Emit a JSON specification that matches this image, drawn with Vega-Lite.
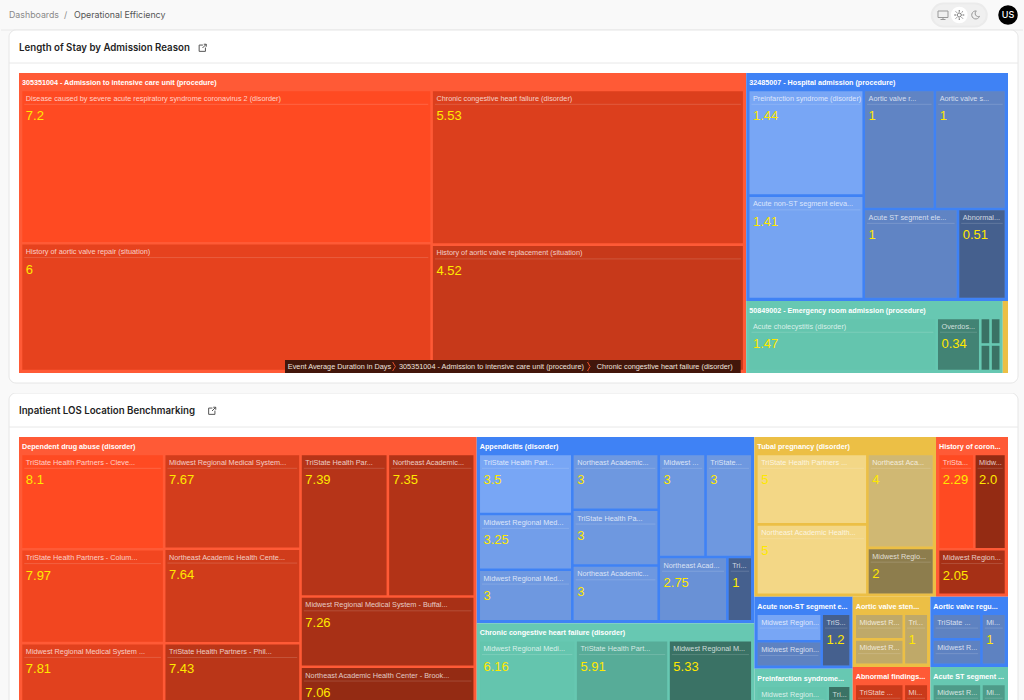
{
  "$schema": "https://vega.github.io/schema/vega-lite/v6.json",
  "background": "#f9f9f9",
  "padding": {"left": 0, "top": -1, "right": 0, "bottom": 0},
  "spacing": 0,
  "bounds": "flush",
  "config": {"view": {"stroke": null}, "font": "Liberation Sans", "text": {"font": "Liberation Sans"}},
  "datasets": {
    "leaves": [
      {"path": "Aaaaa", "group": "305351004 - Admission to intensive care unit (procedure)", "name": "Disease caused by severe acute respiratory syndrome coronavirus 2 (disorder)", "value": 7.2},
      {"path": "Aaaab", "group": "305351004 - Admission to intensive care unit (procedure)", "name": "History of aortic valve repair (situation)", "value": 6},
      {"path": "Aaaba", "group": "305351004 - Admission to intensive care unit (procedure)", "name": "Chronic congestive heart failure (disorder)", "value": 5.53},
      {"path": "Aaabb", "group": "305351004 - Admission to intensive care unit (procedure)", "name": "History of aortic valve replacement (situation)", "value": 4.52},
      {"path": "Abaaa", "group": "32485007 - Hospital admission (procedure)", "name": "Preinfarction syndrome (disorder)", "value": 1.44},
      {"path": "Abaab", "group": "32485007 - Hospital admission (procedure)", "name": "Acute non-ST segment eleva...", "value": 1.41},
      {"path": "Ababaa", "group": "32485007 - Hospital admission (procedure)", "name": "Aortic valve r...", "value": 1},
      {"path": "Ababab", "group": "32485007 - Hospital admission (procedure)", "name": "Aortic valve s...", "value": 1},
      {"path": "Ababba", "group": "32485007 - Hospital admission (procedure)", "name": "Acute ST segment ele...", "value": 1},
      {"path": "Ababbb", "group": "32485007 - Hospital admission (procedure)", "name": "Abnormal...", "value": 0.51},
      {"path": "Abbaaa", "group": "50849002 - Emergency room admission (procedure)", "name": "Acute cholecystitis (disorder)", "value": 1.47},
      {"path": "Abbaab", "group": "50849002 - Emergency room admission (procedure)", "name": "Overdos...", "value": 0.34},
      {"path": "Abbaaca", "group": "50849002 - Emergency room admission (procedure)", "name": "", "value": 0.04},
      {"path": "Abbaacb", "group": "50849002 - Emergency room admission (procedure)", "name": "", "value": 0.04},
      {"path": "Abbaada", "group": "50849002 - Emergency room admission (procedure)", "name": "", "value": 0.04},
      {"path": "Abbaadb", "group": "50849002 - Emergency room admission (procedure)", "name": "", "value": 0.04},
      {"path": "Abbb", "group": "Other", "name": "", "value": 0.04},

      {"path": "Baaaa", "group": "Dependent drug abuse (disorder)", "name": "TriState Health Partners - Cleve...", "value": 8.1},
      {"path": "Baaab", "group": "Dependent drug abuse (disorder)", "name": "TriState Health Partners - Colum...", "value": 7.97},
      {"path": "Baaac", "group": "Dependent drug abuse (disorder)", "name": "Midwest Regional Medical System ...", "value": 7.81},
      {"path": "Baaba", "group": "Dependent drug abuse (disorder)", "name": "Midwest Regional Medical System...", "value": 7.67},
      {"path": "Baabb", "group": "Dependent drug abuse (disorder)", "name": "Northeast Academic Health Cente...", "value": 7.64},
      {"path": "Baabc", "group": "Dependent drug abuse (disorder)", "name": "TriState Health Partners - Phil...", "value": 7.43},
      {"path": "Baacaa", "group": "Dependent drug abuse (disorder)", "name": "TriState Health Par...", "value": 7.39},
      {"path": "Baacab", "group": "Dependent drug abuse (disorder)", "name": "Northeast Academic...", "value": 7.35},
      {"path": "Baacb", "group": "Dependent drug abuse (disorder)", "name": "Midwest Regional Medical System - Buffal...", "value": 7.26},
      {"path": "Baacc", "group": "Dependent drug abuse (disorder)", "name": "Northeast Academic Health Center - Brook...", "value": 7.06},

      {"path": "Bbaaa", "group": "Appendicitis (disorder)", "name": "TriState Health Part...", "value": 3.5},
      {"path": "Bbaab", "group": "Appendicitis (disorder)", "name": "Midwest Regional Med...", "value": 3.25},
      {"path": "Bbaac", "group": "Appendicitis (disorder)", "name": "Midwest Regional Med...", "value": 3},
      {"path": "Bbaba", "group": "Appendicitis (disorder)", "name": "Northeast Academic...", "value": 3},
      {"path": "Bbabb", "group": "Appendicitis (disorder)", "name": "TriState Health Pa...", "value": 3},
      {"path": "Bbabc", "group": "Appendicitis (disorder)", "name": "Northeast Academic...", "value": 3},
      {"path": "Bbacaa", "group": "Appendicitis (disorder)", "name": "Midwest ...", "value": 3},
      {"path": "Bbacab", "group": "Appendicitis (disorder)", "name": "TriState...", "value": 3},
      {"path": "Bbacba", "group": "Appendicitis (disorder)", "name": "Northeast Acad...", "value": 2.75},
      {"path": "Bbacbb", "group": "Appendicitis (disorder)", "name": "Tri...", "value": 1},

      {"path": "Bbba", "group": "Chronic congestive heart failure (disorder)", "name": "Midwest Regional Medi...", "value": 6.16},
      {"path": "Bbbb", "group": "Chronic congestive heart failure (disorder)", "name": "TriState Health Part...", "value": 5.91},
      {"path": "Bbbc", "group": "Chronic congestive heart failure (disorder)", "name": "Midwest Regional M...", "value": 5.33},

      {"path": "Bcaaaaa", "group": "Tubal pregnancy (disorder)", "name": "TriState Health Partners ...", "value": 5},
      {"path": "Bcaaaab", "group": "Tubal pregnancy (disorder)", "name": "Northeast Academic Health...", "value": 5},
      {"path": "Bcaaaba", "group": "Tubal pregnancy (disorder)", "name": "Northeast Aca...", "value": 4},
      {"path": "Bcaaabb", "group": "Tubal pregnancy (disorder)", "name": "Midwest Regio...", "value": 2},

      {"path": "Bcabaa", "group": "History of coron...", "name": "TriSta...", "value": 2.29},
      {"path": "Bcabab", "group": "History of coron...", "name": "Midw...", "value": 2, "display": "2.0"},
      {"path": "Bcabb", "group": "History of coron...", "name": "Midwest Region...", "value": 2.05},

      {"path": "Bcbaaaa", "group": "Acute non-ST segment e...", "name": "Midwest Region...", "value": 1.4},
      {"path": "Bcbaaab", "group": "Acute non-ST segment e...", "name": "Midwest Region...", "value": 1.3},
      {"path": "Bcbaab", "group": "Acute non-ST segment e...", "name": "TriS...", "value": 1.2},

      {"path": "Bcbabaa", "group": "Preinfarction syndrome...", "name": "Midwest Region...", "value": 1.45},
      {"path": "Bcbabab", "group": "Preinfarction syndrome...", "name": "Midwest Region...", "value": 1.35},
      {"path": "Bcbabb", "group": "Preinfarction syndrome...", "name": "Tri...", "value": 0.9},

      {"path": "Bcbbaaa", "group": "Aortic valve sten...", "name": "Midwest R...", "value": 1},
      {"path": "Bcbbaab", "group": "Aortic valve sten...", "name": "Midwest R...", "value": 1},
      {"path": "Bcbbab", "group": "Aortic valve sten...", "name": "Tri...", "value": 1},

      {"path": "Bcbbbaa", "group": "Abnormal findings...", "name": "TriState ...", "value": 1},
      {"path": "Bcbbbab", "group": "Abnormal findings...", "name": "TriState ...", "value": 1},
      {"path": "Bcbbbb", "group": "Abnormal findings...", "name": "Mi...", "value": 1},

      {"path": "Bcbcaaa", "group": "Aortic valve regu...", "name": "TriState ...", "value": 1},
      {"path": "Bcbcaab", "group": "Aortic valve regu...", "name": "Midwest R...", "value": 1},
      {"path": "Bcbcab", "group": "Aortic valve regu...", "name": "Mi...", "value": 1},

      {"path": "Bcbcbaa", "group": "Acute ST segment ...", "name": "Midwest R...", "value": 1},
      {"path": "Bcbcbab", "group": "Acute ST segment ...", "name": "Midwest R...", "value": 1},
      {"path": "Bcbcbb", "group": "Acute ST segment ...", "name": "Mi...", "value": 1}
    ]
  },
  "data": {"name": "leaves"},
  "transform": [
    {"calculate": "substring(datum.path,0,1)", "as": "k0"},
    {"calculate": "0", "as": "x0"},
    {"calculate": "989", "as": "x1"},
    {"calculate": "0", "as": "y0"},
    {"calculate": "300", "as": "y1"},

    {"calculate": "substring(datum.path,0,2)", "as": "k1"},
    {"stack": "value", "groupby": ["k0"], "sort": [{"field": "k1"}], "as": ["s1", "e1"]},
    {"joinaggregate": [{"op": "min", "field": "s1", "as": "a1"}, {"op": "max", "field": "e1", "as": "b1"}], "groupby": ["k1"]},
    {"joinaggregate": [{"op": "sum", "field": "value", "as": "t1"}], "groupby": ["k0"]},
    {"calculate": "datum.x0+(datum.x1-datum.x0)*datum.b1/datum.t1", "as": "x1"},
    {"calculate": "datum.x0+(datum.x1-datum.x0)*datum.a1/datum.b1", "as": "x0"},

    {"calculate": "substring(datum.path,0,3)", "as": "k2"},
    {"stack": "value", "groupby": ["k1"], "sort": [{"field": "k2"}], "as": ["s2", "e2"]},
    {"joinaggregate": [{"op": "min", "field": "s2", "as": "a2"}, {"op": "max", "field": "e2", "as": "b2"}], "groupby": ["k2"]},
    {"joinaggregate": [{"op": "sum", "field": "value", "as": "t2"}], "groupby": ["k1"]},
    {"calculate": "datum.y0+(datum.y1-datum.y0)*datum.b2/datum.t2", "as": "y1"},
    {"calculate": "datum.y0+(datum.y1-datum.y0)*datum.a2/datum.b2", "as": "y0"},

    {"calculate": "substring(datum.path,0,4)", "as": "k3"},
    {"stack": "value", "groupby": ["k2"], "sort": [{"field": "k3"}], "as": ["s3", "e3"]},
    {"joinaggregate": [{"op": "min", "field": "s3", "as": "a3"}, {"op": "max", "field": "e3", "as": "b3"}], "groupby": ["k3"]},
    {"joinaggregate": [{"op": "sum", "field": "value", "as": "t3"}], "groupby": ["k2"]},
    {"calculate": "datum.x0+(datum.x1-datum.x0)*datum.b3/datum.t3", "as": "x1"},
    {"calculate": "datum.x0+(datum.x1-datum.x0)*datum.a3/datum.b3", "as": "x0"},

    {"calculate": "substring(datum.path,0,5)", "as": "k4"},
    {"stack": "value", "groupby": ["k3"], "sort": [{"field": "k4"}], "as": ["s4", "e4"]},
    {"joinaggregate": [{"op": "min", "field": "s4", "as": "a4"}, {"op": "max", "field": "e4", "as": "b4"}], "groupby": ["k4"]},
    {"joinaggregate": [{"op": "sum", "field": "value", "as": "t4"}], "groupby": ["k3"]},
    {"calculate": "datum.y0+(datum.y1-datum.y0)*datum.b4/datum.t4", "as": "y1"},
    {"calculate": "datum.y0+(datum.y1-datum.y0)*datum.a4/datum.b4", "as": "y0"},

    {"calculate": "substring(datum.path,0,6)", "as": "k5"},
    {"stack": "value", "groupby": ["k4"], "sort": [{"field": "k5"}], "as": ["s5", "e5"]},
    {"joinaggregate": [{"op": "min", "field": "s5", "as": "a5"}, {"op": "max", "field": "e5", "as": "b5"}], "groupby": ["k5"]},
    {"joinaggregate": [{"op": "sum", "field": "value", "as": "t5"}], "groupby": ["k4"]},
    {"calculate": "datum.x0+(datum.x1-datum.x0)*datum.b5/datum.t5", "as": "x1"},
    {"calculate": "datum.x0+(datum.x1-datum.x0)*datum.a5/datum.b5", "as": "x0"},

    {"calculate": "substring(datum.path,0,7)", "as": "k6"},
    {"stack": "value", "groupby": ["k5"], "sort": [{"field": "k6"}], "as": ["s6", "e6"]},
    {"joinaggregate": [{"op": "min", "field": "s6", "as": "a6"}, {"op": "max", "field": "e6", "as": "b6"}], "groupby": ["k6"]},
    {"joinaggregate": [{"op": "sum", "field": "value", "as": "t6"}], "groupby": ["k5"]},
    {"calculate": "datum.y0+(datum.y1-datum.y0)*datum.b6/datum.t6", "as": "y1"},
    {"calculate": "datum.y0+(datum.y1-datum.y0)*datum.a6/datum.b6", "as": "y0"},

    {"joinaggregate": [
      {"op": "min", "field": "x0", "as": "gx0"}, {"op": "max", "field": "x1", "as": "gx1"},
      {"op": "min", "field": "y0", "as": "gy0"}, {"op": "max", "field": "y1", "as": "gy1"},
      {"op": "min", "field": "value", "as": "vmin"}, {"op": "max", "field": "value", "as": "vmax"}
    ], "groupby": ["k0", "group"]},
    {"window": [{"op": "row_number", "as": "n"}], "groupby": ["k0", "group"]},
    {"calculate": "indexof(datum.group,'305351004')==0 ? 2.08 : datum.vmin", "as": "vmin"},
    {"calculate": "datum.vmax==datum.vmin ? 0.5 : (datum.value-datum.vmin)/(datum.vmax-datum.vmin)", "as": "shade"},
    {"calculate": "datum.gx0+2+(datum.x0-datum.gx0)/(datum.gx1-datum.gx0)*(datum.gx1-datum.gx0-4)+1.3", "as": "lx0"},
    {"calculate": "datum.gx0+2+(datum.x1-datum.gx0)/(datum.gx1-datum.gx0)*(datum.gx1-datum.gx0-4)-1.3", "as": "lx1"},
    {"calculate": "datum.gy0+17+(datum.y0-datum.gy0)/(datum.gy1-datum.gy0)*(datum.gy1-datum.gy0-19)+1.3", "as": "ly0"},
    {"calculate": "datum.gy0+17+(datum.y1-datum.gy0)/(datum.gy1-datum.gy0)*(datum.gy1-datum.gy0-19)-1.3", "as": "ly1"},
    {"calculate": "datum.ly0+13", "as": "lrule"},
    {"calculate": "datum.lx0+2", "as": "rx0"},
    {"calculate": "datum.lx1-2", "as": "rx1"},
    {"calculate": "datum.display || ('' + datum.value)", "as": "shown"}
  ],
  "vconcat": [
    {
      "width": 1024,
      "height": 30,
      "layer": [
        {
          "data": {"values": [{"item": "desktop"}, {"item": "sun"}, {"item": "moon"}, {"item": "gap"}, {"item": "US"}]},
          "layer": [
            {
              "transform": [{"filter": "datum.item == 'sun'"}],
              "mark": {"type": "point", "filled": true, "fill": "#f0f0f0", "stroke": "#ebebeb", "size": 3025, "opacity": 1, "shape": "M-0.58,-0.42H0.58A0.42,0.42 0 0,1 0.58,0.42H-0.58A0.42,0.42 0 0,1 -0.58,-0.42Z"},
              "encoding": {"x": {"field": "item", "type": "nominal", "axis": null, "scale": {"type": "point", "padding": 0, "domain": ["desktop", "sun", "moon", "gap", "US"], "range": [943, 1008]}}}
            },
            {
              "transform": [{"filter": "datum.item == 'sun'"}],
              "mark": {"type": "point", "filled": true, "fill": "#ffffff", "stroke": null, "size": 280, "shape": "circle", "opacity": 1},
              "encoding": {"x": {"field": "item", "type": "nominal", "axis": null}}
            },
            {
              "transform": [{"filter": "datum.item == 'desktop'"}],
              "mark": {"type": "point", "size": 100, "opacity": 1, "stroke": "#999999", "strokeWidth": 1, "shape": "M-1,-0.8H1V0.5H-1Z M0,0.5V0.9 M-0.5,0.9H0.5"},
              "encoding": {"x": {"field": "item", "type": "nominal", "axis": null}}
            },
            {
              "transform": [{"filter": "datum.item == 'sun'"}],
              "mark": {"type": "point", "size": 100, "opacity": 1, "stroke": "#666666", "strokeWidth": 1, "shape": "M-0.4,0A0.4,0.4 0 1,1 0.4,0A0.4,0.4 0 1,1 -0.4,0Z M0,-1V-0.65 M0,1V0.65 M-1,0H-0.65 M1,0H0.65 M-0.7,-0.7L-0.48,-0.48 M0.7,0.7L0.48,0.48 M-0.7,0.7L-0.48,0.48 M0.7,-0.7L0.48,-0.48"},
              "encoding": {"x": {"field": "item", "type": "nominal", "axis": null}}
            },
            {
              "transform": [{"filter": "datum.item == 'moon'"}],
              "mark": {"type": "point", "size": 80, "opacity": 1, "stroke": "#999999", "strokeWidth": 1, "shape": "M0.2,-0.9A0.9,0.9 0 1,0 0.9,0.3A0.7,0.7 0 0,1 0.2,-0.9Z"},
              "encoding": {"x": {"field": "item", "type": "nominal", "axis": null}}
            },
            {
              "transform": [{"filter": "datum.item == 'US'"}],
              "mark": {"type": "point", "filled": true, "fill": "#000000", "stroke": null, "size": 380, "shape": "circle", "opacity": 1},
              "encoding": {"x": {"field": "item", "type": "nominal", "axis": null}}
            },
            {
              "transform": [{"filter": "datum.item == 'US'"}],
              "mark": {"type": "text", "fill": "#ffffff", "font": "Inter", "fontSize": 9, "fontWeight": 500},
              "encoding": {"x": {"field": "item", "type": "nominal", "axis": null}, "text": {"field": "item"}}
            }
          ]
        },
        {
          "data": {"values": [{"crumb": "Dashboards\u00a0\u00a0/", "tone": "a"}, {"crumb": "Operational Efficiency", "tone": "b"}]},
          "mark": {"type": "text", "align": "left", "font": "Inter", "fontSize": 8.8},
          "encoding": {
            "x": {"field": "crumb", "type": "nominal", "axis": null, "scale": {"type": "point", "padding": 0, "domain": ["Dashboards\u00a0\u00a0/", "Operational Efficiency"], "range": [9, 74]}},
            "text": {"field": "crumb"},
            "color": {"field": "tone", "type": "nominal", "legend": null, "scale": {"domain": ["a", "b"], "range": ["#8a8a8a", "#555555"]}}
          }
        }
      ],
      "resolve": {"scale": {"x": "independent"}}
    },
    {
      "width": 1024,
      "height": 363,
      "layer": [
        {
          "data": {"values": [{"title": "Length of Stay by Admission Reason"}]},
          "layer": [
            {
              "mark": {"type": "rule", "stroke": "#e8e8e8"},
              "encoding": {
                "x": {"datum": -18, "type": "quantitative", "axis": null, "scale": {"domain": [-19, 1005], "nice": false, "zero": false}},
                "x2": {"datum": 1004},
                "y": {"datum": -43, "type": "quantitative", "axis": null, "scale": {"domain": [-43, 320], "reverse": true, "nice": false, "zero": false}}
              }
            },
            {
              "mark": {"type": "rect", "fill": "#ffffff", "stroke": "#e6e6e6", "cornerRadius": 7},
              "encoding": {
                "x": {"datum": -10, "type": "quantitative", "axis": null},
                "x2": {"datum": 999},
                "y": {"datum": -43, "type": "quantitative", "axis": null},
                "y2": {"datum": 310}
              }
            },
            {
              "mark": {"type": "rule", "stroke": "#e8e8e8"},
              "encoding": {
                "x": {"datum": -10, "type": "quantitative", "axis": null},
                "x2": {"datum": 999},
                "y": {"datum": -10, "type": "quantitative", "axis": null}
              }
            },
            {
              "mark": {"type": "text", "align": "left", "font": "Inter", "fontSize": 9.7, "fontWeight": 600, "fill": "#1f1f1f"},
              "encoding": {
                "x": {"datum": 0, "type": "quantitative", "axis": null},
                "y": {"datum": -25, "type": "quantitative", "axis": null},
                "text": {"field": "title"}
              }
            },
            {
              "mark": {"type": "point", "size": 70, "opacity": 1, "stroke": "#555555", "strokeWidth": 1, "shape": "M0.1,-0.7H-0.8V0.8H0.7V-0.1 M0,0 L0.9,-0.9 M0.3,-0.9H0.9V-0.3"},
              "encoding": {
                "x": {"datum": 183.5, "type": "quantitative", "axis": null},
                "y": {"datum": -25, "type": "quantitative", "axis": null}
              }
            }
          ]
        },
        {
          "transform": [{"filter": "datum.k0 == 'A'"}],
          "layer": [
            {
              "transform": [{"filter": "datum.n == 1"}],
              "mark": {"type": "rect"},
              "encoding": {
                "x": {"field": "gx0", "type": "quantitative", "axis": null},
                "x2": {"field": "gx1"},
                "y": {"field": "gy0", "type": "quantitative", "axis": null},
                "y2": {"field": "gy1"},
                "fill": {"field": "group", "type": "nominal", "legend": null, "scale": {
                  "domain": ["305351004 - Admission to intensive care unit (procedure)", "32485007 - Hospital admission (procedure)", "50849002 - Emergency room admission (procedure)", "Other"],
                  "range": ["#ff5a36", "#3f82f5", "#67c8b2", "#ecbf45"]
                }}
              }
            },
            {
              "transform": [{"filter": "datum.gx1-datum.gx0 > 20"}],
              "layer": [
                {
                  "mark": {"type": "rect"},
                  "encoding": {
                    "x": {"field": "lx0", "type": "quantitative", "axis": null},
                    "x2": {"field": "lx1"},
                    "y": {"field": "ly0", "type": "quantitative", "axis": null},
                    "y2": {"field": "ly1"},
                    "color": {"field": "group", "type": "nominal", "legend": null, "scale": {
                      "domain": ["305351004 - Admission to intensive care unit (procedure)", "32485007 - Hospital admission (procedure)", "50849002 - Emergency room admission (procedure)", "Other"],
                      "range": ["#ff4a22", "#78a6f5", "#64c5ae", "#f3d786"]
                    }}
                  }
                },
                {
                  "mark": {"type": "rect", "fill": "#000000"},
                  "encoding": {
                    "x": {"field": "lx0", "type": "quantitative", "axis": null},
                    "x2": {"field": "lx1"},
                    "y": {"field": "ly0", "type": "quantitative", "axis": null},
                    "y2": {"field": "ly1"},
                    "opacity": {"field": "shade", "type": "quantitative", "legend": null, "scale": {"domain": [0, 1], "range": [0.42, 0]}}
                  }
                },
                {
                  "transform": [{"filter": "datum.name != ''"}],
                  "mark": {"type": "rule", "stroke": "#ffffff", "strokeOpacity": 0.15},
                  "encoding": {
                    "x": {"field": "rx0", "type": "quantitative", "axis": null},
                    "x2": {"field": "rx1"},
                    "y": {"field": "lrule", "type": "quantitative", "axis": null}
                  }
                },
                {
                  "mark": {"type": "text", "align": "left", "baseline": "top", "dx": 3.5, "dy": 3.5, "fontSize": 7.3, "fill": "#ffffff", "fillOpacity": 0.75},
                  "encoding": {
                    "x": {"field": "lx0", "type": "quantitative", "axis": null},
                    "y": {"field": "ly0", "type": "quantitative", "axis": null},
                    "text": {"field": "name"}
                  }
                },
                {
                  "transform": [{"filter": "datum.ly1-datum.ly0 > 30"}],
                  "mark": {"type": "text", "align": "left", "baseline": "top", "dx": 3.5, "dy": 19, "fontSize": 13, "fill": "#ffe800"},
                  "encoding": {
                    "x": {"field": "lx0", "type": "quantitative", "axis": null},
                    "y": {"field": "ly0", "type": "quantitative", "axis": null},
                    "text": {"field": "shown"}
                  }
                },
                {
                  "transform": [{"filter": "datum.n == 1"}],
                  "mark": {"type": "text", "align": "left", "baseline": "middle", "dx": 3, "dy": 10, "fontSize": 7.2, "fontWeight": "bold", "fill": "#ffffff"},
                  "encoding": {
                    "x": {"field": "gx0", "type": "quantitative", "axis": null},
                    "y": {"field": "gy0", "type": "quantitative", "axis": null},
                    "text": {"field": "group"}
                  }
                }
              ]
            },
            {
              "data": {"values": [
                {"crumb": "Event Average Duration in Days"},
                {"crumb": "305351004 - Admission to intensive care unit (procedure)"},
                {"crumb": "Chronic congestive heart failure (disorder)"}
              ]},
              "transform": [
                {"window": [{"op": "row_number", "as": "pos"}]},
                {"calculate": "10+3.3*length(datum.crumb)", "as": "w"},
                {"stack": "w", "sort": [{"field": "pos"}], "as": ["c0", "c1"]},
                {"calculate": "266+datum.c0", "as": "c0"},
                {"calculate": "266+datum.c1", "as": "c1"},
                {"calculate": "(datum.c0+datum.c1)/2", "as": "cm"},
                {"calculate": "287", "as": "ct"},
                {"calculate": "300", "as": "cb"},
                {"calculate": "293.5", "as": "cc"}
              ],
              "layer": [
                {
                  "mark": {"type": "rect", "fill": "#42160b"},
                  "encoding": {
                    "x": {"field": "c0", "type": "quantitative", "axis": null},
                    "x2": {"field": "c1"},
                    "y": {"field": "ct", "type": "quantitative", "axis": null},
                    "y2": {"field": "cb"}
                  }
                },
                {
                  "transform": [{"filter": "datum.pos > 1"}],
                  "mark": {"type": "point", "size": 80, "opacity": 1, "stroke": "#e8502a", "strokeWidth": 1, "shape": "M-0.3,-1L0.3,0L-0.3,1"},
                  "encoding": {
                    "x": {"field": "c0", "type": "quantitative", "axis": null},
                    "y": {"field": "cc", "type": "quantitative", "axis": null}
                  }
                },
                {
                  "mark": {"type": "text", "fontSize": 7.3, "fill": "#eee3df"},
                  "encoding": {
                    "x": {"field": "cm", "type": "quantitative", "axis": null},
                    "y": {"field": "cc", "type": "quantitative", "axis": null},
                    "text": {"field": "crumb"}
                  }
                }
              ]
            }
          ],
          "resolve": {"scale": {"color": "independent", "fill": "independent"}}
        }
      ]
    },
    {
      "width": 1024,
      "height": 307,
      "layer": [
        {
          "data": {"values": [{"title": "Inpatient LOS Location Benchmarking"}]},
          "layer": [
            {
              "mark": {"type": "rect", "fill": "#ffffff", "stroke": "#e6e6e6", "cornerRadius": 7, "clip": true},
              "encoding": {
                "x": {"datum": -10, "type": "quantitative", "axis": null, "scale": {"domain": [-19, 1005], "nice": false, "zero": false}},
                "x2": {"datum": 999},
                "y": {"datum": -44, "type": "quantitative", "axis": null, "scale": {"domain": [-44, 263], "reverse": true, "nice": false, "zero": false}},
                "y2": {"datum": 320}
              }
            },
            {
              "mark": {"type": "rule", "stroke": "#e8e8e8"},
              "encoding": {
                "x": {"datum": -10, "type": "quantitative", "axis": null},
                "x2": {"datum": 999},
                "y": {"datum": -10, "type": "quantitative", "axis": null}
              }
            },
            {
              "mark": {"type": "text", "align": "left", "font": "Inter", "fontSize": 9.7, "fontWeight": 600, "fill": "#1f1f1f"},
              "encoding": {
                "x": {"datum": 0, "type": "quantitative", "axis": null},
                "y": {"datum": -26, "type": "quantitative", "axis": null},
                "text": {"field": "title"}
              }
            },
            {
              "mark": {"type": "point", "size": 70, "opacity": 1, "stroke": "#555555", "strokeWidth": 1, "shape": "M0.1,-0.7H-0.8V0.8H0.7V-0.1 M0,0 L0.9,-0.9 M0.3,-0.9H0.9V-0.3"},
              "encoding": {
                "x": {"datum": 193, "type": "quantitative", "axis": null},
                "y": {"datum": -26, "type": "quantitative", "axis": null}
              }
            }
          ]
        },
        {
          "transform": [{"filter": "datum.k0 == 'B'"}],
          "layer": [
            {
              "transform": [{"filter": "datum.n == 1"}],
              "mark": {"type": "rect", "clip": true},
              "encoding": {
                "x": {"field": "gx0", "type": "quantitative", "axis": null},
                "x2": {"field": "gx1"},
                "y": {"field": "gy0", "type": "quantitative", "axis": null},
                "y2": {"field": "gy1"},
                "fill": {"field": "group", "type": "nominal", "legend": null, "scale": {
                  "domain": ["Dependent drug abuse (disorder)", "Appendicitis (disorder)", "Chronic congestive heart failure (disorder)", "Tubal pregnancy (disorder)", "History of coron...", "Acute non-ST segment e...", "Preinfarction syndrome...", "Aortic valve sten...", "Abnormal findings...", "Aortic valve regu...", "Acute ST segment ..."],
                  "range": ["#ff5a36", "#3f82f5", "#67c8b2", "#ecbf45", "#ff5a36", "#3f82f5", "#67c8b2", "#ecbf45", "#ff5a36", "#3f82f5", "#67c8b2"]
                }}
              }
            },
            {
              "mark": {"type": "rect", "clip": true},
              "encoding": {
                "x": {"field": "lx0", "type": "quantitative", "axis": null},
                "x2": {"field": "lx1"},
                "y": {"field": "ly0", "type": "quantitative", "axis": null},
                "y2": {"field": "ly1"},
                "color": {"field": "group", "type": "nominal", "legend": null, "scale": {
                  "domain": ["Dependent drug abuse (disorder)", "Appendicitis (disorder)", "Chronic congestive heart failure (disorder)", "Tubal pregnancy (disorder)", "History of coron...", "Acute non-ST segment e...", "Preinfarction syndrome...", "Aortic valve sten...", "Abnormal findings...", "Aortic valve regu...", "Acute ST segment ..."],
                  "range": ["#ff4a22", "#78a6f5", "#64c5ae", "#f3d786", "#ff4a22", "#78a6f5", "#64c5ae", "#f3d786", "#ff4a22", "#78a6f5", "#64c5ae"]
                }}
              }
            },
            {
              "mark": {"type": "rect", "fill": "#000000", "clip": true},
              "encoding": {
                "x": {"field": "lx0", "type": "quantitative", "axis": null},
                "x2": {"field": "lx1"},
                "y": {"field": "ly0", "type": "quantitative", "axis": null},
                "y2": {"field": "ly1"},
                "opacity": {"field": "shade", "type": "quantitative", "legend": null, "scale": {"domain": [0, 1], "range": [0.42, 0]}}
              }
            },
            {
              "mark": {"type": "rule", "stroke": "#ffffff", "strokeOpacity": 0.15, "clip": true},
              "encoding": {
                "x": {"field": "rx0", "type": "quantitative", "axis": null},
                "x2": {"field": "rx1"},
                "y": {"field": "lrule", "type": "quantitative", "axis": null}
              }
            },
            {
              "mark": {"type": "text", "align": "left", "baseline": "top", "dx": 3.5, "dy": 3.5, "fontSize": 7.3, "fill": "#ffffff", "fillOpacity": 0.75, "clip": true},
              "encoding": {
                "x": {"field": "lx0", "type": "quantitative", "axis": null},
                "y": {"field": "ly0", "type": "quantitative", "axis": null},
                "text": {"field": "name"}
              }
            },
            {
              "transform": [{"filter": "datum.ly1-datum.ly0 > 30"}],
              "mark": {"type": "text", "align": "left", "baseline": "top", "dx": 3.5, "dy": 19, "fontSize": 13, "fill": "#ffe800", "clip": true},
              "encoding": {
                "x": {"field": "lx0", "type": "quantitative", "axis": null},
                "y": {"field": "ly0", "type": "quantitative", "axis": null},
                "text": {"field": "shown"}
              }
            },
            {
              "transform": [{"filter": "datum.n == 1"}],
              "mark": {"type": "text", "align": "left", "baseline": "middle", "dx": 3, "dy": 10, "fontSize": 7.2, "fontWeight": "bold", "fill": "#ffffff", "clip": true},
              "encoding": {
                "x": {"field": "gx0", "type": "quantitative", "axis": null},
                "y": {"field": "gy0", "type": "quantitative", "axis": null},
                "text": {"field": "group"}
              }
            }
          ],
          "resolve": {"scale": {"color": "independent", "fill": "independent"}}
        }
      ]
    }
  ]
}
